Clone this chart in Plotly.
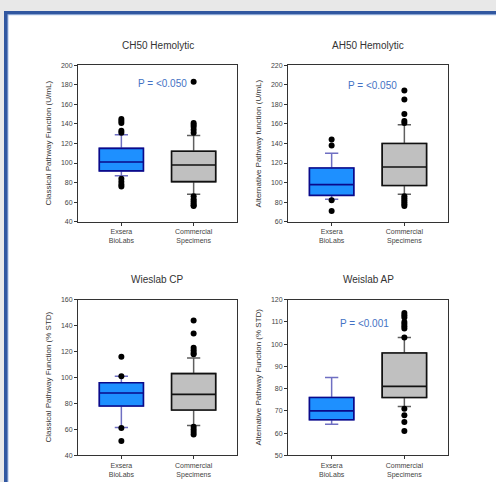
import plotly.graph_objects as go

W, H = 496, 482
FONT = "Liberation Sans, Arial, sans-serif"

categories = ["Exsera<br>BioLabs", "Commercial<br>Specimens"]

panel_titles = ["CH50 Hemolytic", "AH50 Hemolytic", "Wieslab CP", "Weislab AP"]
y_titles = ["Classical Pathway Function (U/mL)", "Alternative Pathway function (U/mL)",
            "Classical Pathway Function (% STD)", "Alternative Pathway Function (% STD)"]
p_texts = ["P = <0.050", "P = <0.050", None, "P = <0.001"]
y_ranges = [(40, 200), (60, 220), (40, 160), (50, 120)]
y_dticks = [20, 20, 20, 10]

# quartile stats per panel: [Exsera, Commercial]
q1 = [[92, 81], [87, 97], [78, 75], [66, 76]]
median = [[101, 98], [98, 116], [88, 87], [70, 81]]
q3 = [[115, 112], [115, 140], [96, 103], [76, 96]]
lowerfence = [[87, 68], [83, 88], [61.5, 63], [64, 72]]
upperfence = [[129, 128], [130, 159], [101, 115], [85, 103]]

outliers_exsera = [
    [145, 143, 141, 133, 131, 84, 81, 78, 76],
    [144, 138, 82, 71],
    [116, 101, 61, 51],
    [],
]
outliers_commercial = [
    [183, 141, 139, 137, 134, 131, 66, 63, 61, 59, 57, 56],
    [194, 185, 170, 163, 161, 86, 84, 82, 80, 78, 76],
    [144, 134, 123, 121, 119, 118, 62, 60, 58, 56],
    [114, 113, 112, 110, 109, 108, 107, 103, 71, 68, 65, 61],
]

# pixel layout of plot areas: (x0, x1, y0_top, y1_bottom)
areas = [(78, 237, 62, 221), (288, 448, 62, 221), (78, 237, 300, 458), (288, 448, 300, 458)]
p_pos = [(162, 82), (372, 84), None, (364, 325)]

fill_cols = ["#1e90ff", "#c0c0c0"]
edge_cols = ["#0a0a8a", "#111111"]
whisk_cols = ["#6f6fc2", "#5f5f5f"]

fig = go.Figure()
layout = dict(
    width=W, height=H, margin=dict(l=0, r=0, t=0, b=0),
    paper_bgcolor="#e8e8e8", plot_bgcolor="white",
    showlegend=False, boxmode="overlay",
    font=dict(family=FONT, color="#333333"),
)

def px_x(x):
    return x / W

def px_y(y):
    return 1 - y / H

annotations = []
shapes = [
    dict(type="rect", xref="paper", yref="paper", x0=px_x(4), x1=1.2, y0=-0.2, y1=px_y(7),
         fillcolor="#3157a0", line=dict(width=0), layer="below"),
    dict(type="rect", xref="paper", yref="paper", x0=px_x(7.5), x1=1.2, y0=-0.2, y1=px_y(10.5),
         fillcolor="#a9bfe3", line=dict(width=0), layer="below"),
    dict(type="rect", xref="paper", yref="paper", x0=px_x(8.5), x1=1.2, y0=-0.2, y1=px_y(11.5),
         fillcolor="white", line=dict(width=0), layer="below"),
]

for i in range(4):
    sfx = "" if i == 0 else str(i + 1)
    xa, ya = "x" + sfx, "y" + sfx
    x0, x1, yt, yb = areas[i]
    for j in range(2):
        cat = categories[j]
        # whiskers
        fig.add_trace(go.Box(
            x=[cat], q1=[q1[i][j]], median=[median[i][j]], q3=[q3[i][j]],
            lowerfence=[lowerfence[i][j]], upperfence=[upperfence[i][j]],
            xaxis=xa, yaxis=ya, width=0.61, whiskerwidth=0.3,
            line=dict(color=whisk_cols[j], width=1.5), fillcolor=fill_cols[j],
            boxpoints=False, hoverinfo="skip"))
        # box body
        fig.add_trace(go.Box(
            x=[cat], q1=[q1[i][j]], median=[median[i][j]], q3=[q3[i][j]],
            lowerfence=[q1[i][j]], upperfence=[q3[i][j]],
            xaxis=xa, yaxis=ya, width=0.61, whiskerwidth=0.0,
            line=dict(color=edge_cols[j], width=1.6), fillcolor=fill_cols[j],
            boxpoints=False, hoverinfo="skip"))
        outs = outliers_exsera[i] if j == 0 else outliers_commercial[i]
        if outs:
            fig.add_trace(go.Scatter(
                x=[cat] * len(outs), y=outs, mode="markers", xaxis=xa, yaxis=ya,
                marker=dict(color="black", size=6), hoverinfo="skip"))
    layout["xaxis" + sfx] = dict(
        domain=[px_x(x0), px_x(x1)], anchor=ya, type="category",
        categoryorder="array", categoryarray=categories,
        range=[-0.6, 1.6], showgrid=False, zeroline=False,
        showline=True, linecolor="#333333", linewidth=1, mirror=True,
        ticks="outside", ticklen=3, tickcolor="#333333",
        tickfont=dict(size=7, family=FONT, color="#444444"),
    )
    layout["yaxis" + sfx] = dict(
        domain=[px_y(yb), px_y(yt)], anchor=xa,
        range=list(y_ranges[i]), dtick=y_dticks[i], showgrid=False, zeroline=False,
        showline=True, linecolor="#333333", linewidth=1, mirror=True,
        ticks="outside", ticklen=3, tickcolor="#333333",
        tickfont=dict(size=7, family=FONT, color="#444444"),
    )
    cx = (x0 + x1) / 2
    annotations.append(dict(
        xref="paper", yref="paper", x=px_x(cx), y=px_y(yt - 20), text=panel_titles[i],
        showarrow=False, font=dict(size=10, family=FONT, color="#333333"),
        xanchor="center", yanchor="middle"))
    annotations.append(dict(
        xref="paper", yref="paper", x=px_x(x0 - 30), y=px_y((yt + yb) / 2), text=y_titles[i],
        showarrow=False, textangle=-90, font=dict(size=8, family=FONT, color="#333333"),
        xanchor="center", yanchor="middle"))
    if p_texts[i]:
        px, py = p_pos[i]
        annotations.append(dict(
            xref="paper", yref="paper", x=px_x(px), y=px_y(py - 1), text=p_texts[i],
            showarrow=False, font=dict(size=10, family=FONT, color="#4472c4"),
            xanchor="center", yanchor="middle"))

layout["annotations"] = annotations
layout["shapes"] = shapes
fig.update_layout(**layout)
fig.write_html(
    "out.html",
    config={"displayModeBar": False},
    post_script="document.body.style.margin='0';document.body.style.overflow='hidden';",
)
